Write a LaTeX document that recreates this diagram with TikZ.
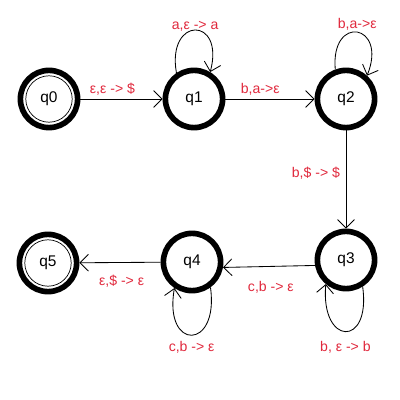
\documentclass[tikz,border=0pt]{standalone}
\usepackage{fontspec}
\setmainfont{Liberation Sans}
\usepackage{tikz}
\usetikzlibrary{arrows.meta,positioning}
\definecolor{ink}{HTML}{000000}
\definecolor{lbl}{HTML}{E0283C}

\begin{document}
\begin{tikzpicture}[x=0.025cm, y=0.025cm,
    state/.style={circle, draw=ink, line width=4pt, minimum size=1.43cm,
                  inner sep=0pt, font=\fontsize{11}{12}\selectfont},
    accept/.style={state, path picture={\draw[line width=0.5pt]
                  (path picture bounding box.center) circle[radius=0.58cm];}},
    edge/.style={draw=ink, line width=0.6pt, -{Straight Barb[length=6pt,width=12pt]}},
    tag/.style={text=lbl, font=\fontsize{10}{11}\selectfont, inner sep=1pt}]
  \useasboundingbox (0,0) rectangle (400,400);

  % states
  \node[accept] (q0) at (49,301) {q0};
  \node[state]  (q1) at (194,301) {q1};
  \node[state]  (q2) at (346,301) {q2};
  \node[state]  (q3) at (346,140) {q3};
  \node[state]  (q4) at (192,138) {q4};
  \node[accept] (q5) at (48,137) {q5};

  % transitions
  \draw[edge] (q0) -- node[tag, above=1pt, pos=0.39] {ε,ε -> \$} (q1);
  \draw[edge] (q1) -- node[tag, above=1pt, pos=0.39] {b,a->ε} (q2);
  \draw[edge] (q2) -- node[tag, left=3pt, pos=0.44] {b,\$ -> \$} (q3);
  \draw[edge] (q3.190) -- node[tag, below=9pt, pos=0.48] {c,b -> ε} (q4.350);
  \draw[edge] (q4) -- node[tag, below=8pt, pos=0.48] {ε,\$ -> ε} (q5);

  % loops
  \draw[edge] (q1.124) .. controls +(100:58) and +(75:58) .. node[tag, above=-2.5pt] {a,ε -> a} (q1.59);
  \draw[edge] (q2.110) .. controls +(95:56) and +(68:56) .. node[tag, above=0pt] {b,a->ε} (q2.48);
  \draw[edge] (q3.-58) .. controls +(-82:62) and +(-95:62) .. node[tag, below=6pt] {b, ε -> b} (q3.230);
  \draw[edge] (q4.-54) .. controls +(-82:64) and +(-100:64) .. node[tag, below=3pt] {c,b -> ε} (q4.236);
\end{tikzpicture}
\end{document}
